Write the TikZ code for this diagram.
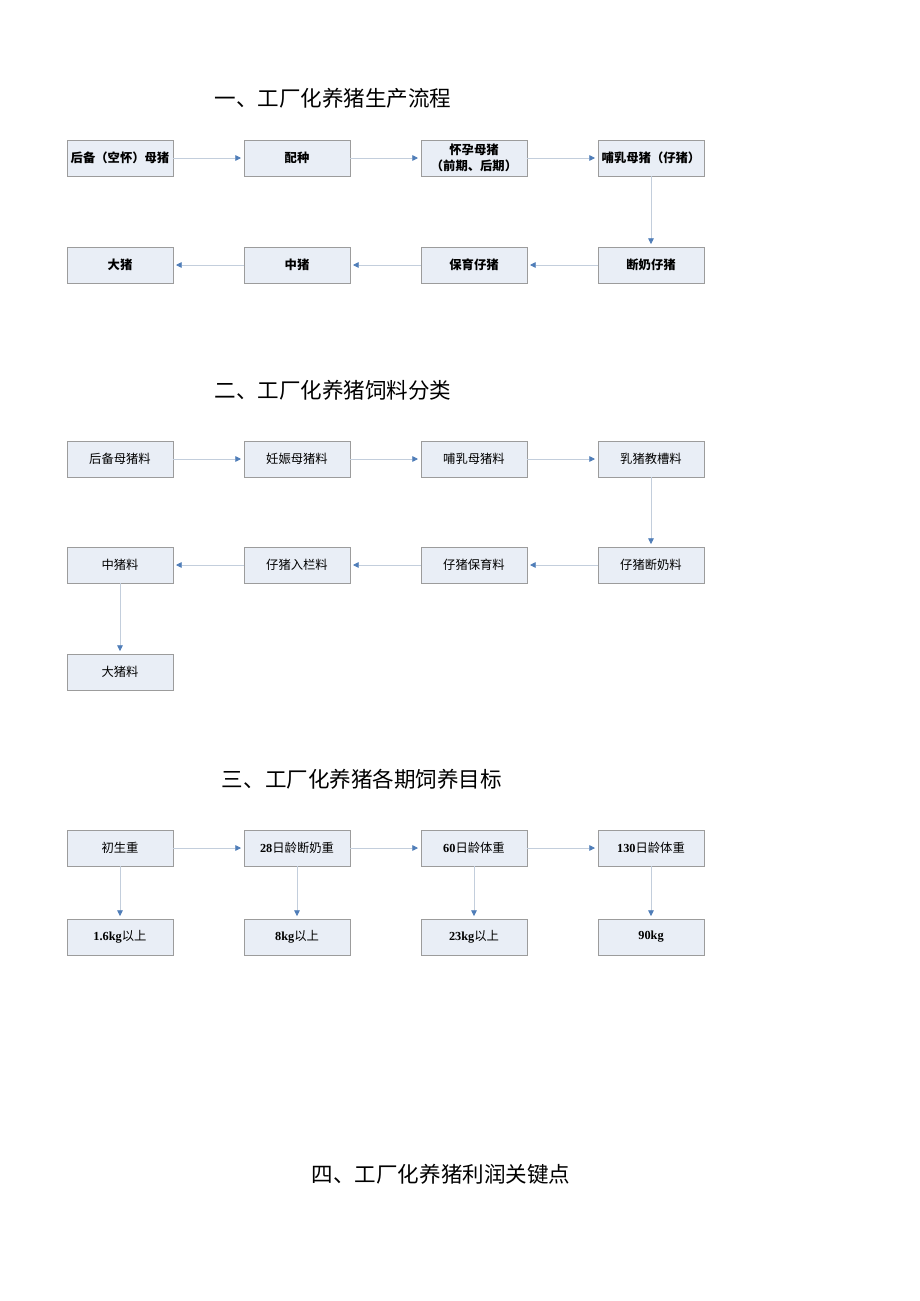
\documentclass[tikz,border=0pt]{standalone}
\usepackage{fontspec}
\setmainfont{Liberation Serif}
\newfontfamily\cjk{Noto Sans CJK SC}
\usepackage{xcolor}
\usepackage{tikz}
\usetikzlibrary{positioning,arrows.meta}

\definecolor{boxfill}{HTML}{E9EEF6}
\definecolor{boxline}{HTML}{9C9C9C}
\definecolor{linkline}{HTML}{C3CEDC}
\definecolor{tipblue}{HTML}{4F7DB8}

\newcommand{\numb}[1]{{\rmfamily\bfseries #1}}

\begin{document}
\begin{tikzpicture}[x=0.2283mm, y=-0.2283mm,
  stage/.style={draw=boxline, fill=boxfill, line width=0.5pt, minimum width=24.2mm, minimum height=8.2mm, inner sep=1pt, align=center, font=\fontsize{8}{10.5}\selectfont\cjk},
  bstage/.style={stage, font=\fontsize{8}{10.5}\selectfont\cjk\bfseries},
  link/.style={draw=linkline, line width=0.5pt, shorten >=0.6mm, -{Triangle[length=1.3mm, width=1.3mm, color=tipblue]}},
  heading/.style={font=\fontsize{14}{16}\selectfont\cjk}]

\useasboundingbox (0,0) rectangle (920,1301);

% Section one: production flow
\node[heading] (h1) at (333, 98) {一、工厂化养猪生产流程};
\node[bstage] (a1) at (120, 158) {后备（空怀）母猪};
\node[bstage] (a2) at (297, 158) {配种};
\node[bstage] (a3) at (474, 158) {怀孕母猪\\（前期、后期）};
\node[bstage] (a4) at (651, 158) {哺乳母猪（仔猪）};
\node[bstage] (a5) at (651, 265) {断奶仔猪};
\node[bstage] (a6) at (474, 265) {保育仔猪};
\node[bstage] (a7) at (297, 265) {中猪};
\node[bstage] (a8) at (120, 265) {大猪};
\foreach \s/\t in {a1/a2, a2/a3, a3/a4, a4/a5, a5/a6, a6/a7, a7/a8}
  \draw[link] (\s) -- (\t);

% Section two: feed types
\node[heading] (h2) at (333, 390) {二、工厂化养猪饲料分类};
\node[stage] (b1) at (120, 459) {后备母猪料};
\node[stage] (b2) at (297, 459) {妊娠母猪料};
\node[stage] (b3) at (474, 459) {哺乳母猪料};
\node[stage] (b4) at (651, 459) {乳猪教槽料};
\node[stage] (b5) at (651, 565) {仔猪断奶料};
\node[stage] (b6) at (474, 565) {仔猪保育料};
\node[stage] (b7) at (297, 565) {仔猪入栏料};
\node[stage] (b8) at (120, 565) {中猪料};
\node[stage] (b9) at (120, 672) {大猪料};
\foreach \s/\t in {b1/b2, b2/b3, b3/b4, b4/b5, b5/b6, b6/b7, b7/b8, b8/b9}
  \draw[link] (\s) -- (\t);

% Section three: weight targets
\node[heading] (h3) at (362, 779) {三、工厂化养猪各期饲养目标};
\node[stage] (c1) at (120, 848) {初生重};
\node[stage] (c2) at (297, 848) {\numb{28}日龄断奶重};
\node[stage] (c3) at (474, 848) {\numb{60}日龄体重};
\node[stage] (c4) at (651, 848) {\numb{130}日龄体重};
\node[stage] (d1) at (120, 937) {\numb{1.6kg}以上};
\node[stage] (d2) at (297, 937) {\numb{8kg}以上};
\node[stage] (d3) at (474, 937) {\numb{23kg}以上};
\node[stage] (d4) at (651, 937) {\numb{90kg}};
\foreach \s/\t in {c1/c2, c2/c3, c3/c4}
  \draw[link] (\s) -- (\t);
\foreach \i in {1,...,4}
  \draw[link] (c\i) -- (d\i);

% Section four
\node[heading] (h4) at (441, 1174) {四、工厂化养猪利润关键点};

\end{tikzpicture}
\end{document}
